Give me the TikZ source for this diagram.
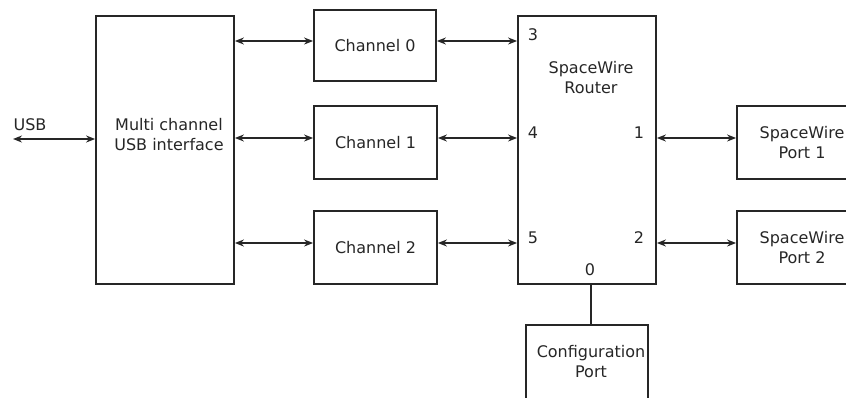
\documentclass[tikz,border=0pt]{standalone}
\usepackage{fontspec}
\setmainfont{DejaVu Sans}
\usetikzlibrary{arrows.meta}
\definecolor{ink}{HTML}{262626}
\begin{document}
\begin{tikzpicture}[x=1pt,y=-1pt,
  txt/.style={text=ink,inner sep=0pt,align=center,font=\fontsize{16}{20}\selectfont},
  box/.style={txt,draw=ink,line width=1.8pt},
  link/.style={draw=ink,line width=1.6pt,{Stealth[length=9pt,width=7pt]}-{Stealth[length=9pt,width=7pt]}},
  plain/.style={draw=ink,line width=1.8pt}]
\useasboundingbox (0,0) rectangle (846,397);
\clip (0,0) rectangle (846,397);
% boxes
\node[box,minimum width=138pt,minimum height=268pt] (usb) at (165,150) {};
\node[txt] (usbtxt) at (169,135) {Multi channel\\USB interface};
\node[box,minimum width=122pt,minimum height=71pt] (ch0) at (375,45.5) {Channel 0};
\node[box,minimum width=123pt,minimum height=73pt] (ch1) at (375.5,142.5) {Channel 1};
\node[box,minimum width=123pt,minimum height=73pt] (ch2) at (375.5,247.5) {Channel 2};
\node[box,minimum width=138pt,minimum height=268pt] (rt) at (587,150) {};
\node[txt] (rttxt) at (591,78) {SpaceWire\\Router};
\node[box,minimum width=130pt,minimum height=73pt] (p1) at (802,142.5) {SpaceWire\\Port 1};
\node[box,minimum width=130pt,minimum height=73pt] (p2) at (802,247.5) {SpaceWire\\Port 2};
\node[box,minimum width=122pt,minimum height=78pt] (cfg) at (587,364) {};
\node[txt] (cfgtxt) at (591,362) {Configuration\\Port};
% port numbers
\node[txt] (n3) at (533,35) {3};
\node[txt] (n4) at (533,133) {4};
\node[txt] (n5) at (533,238) {5};
\node[txt] (n1) at (639,133) {1};
\node[txt] (n2) at (639,238) {2};
\node[txt] (n0) at (590,270) {0};
\node[txt] (usblbl) at (30,124.5) {USB};
% connector anchor points
\coordinate (usbend) at (13,139);
\coordinate (c0) at ([yshift=4.5pt]ch0.west);
\coordinate (c1) at ([yshift=4.5pt]ch1.west);
\coordinate (c2) at ([yshift=4.5pt]ch2.west);
\coordinate (q1) at ([yshift=4.5pt]p1.west);
\coordinate (q2) at ([yshift=4.5pt]p2.west);
\coordinate (zero) at (591,284);
% connectors
\draw[link] (usbend) -- (usb.west |- usbend);
\draw[link] (usb.east |- c0) -- (c0);
\draw[link] (usb.east |- c1) -- (c1);
\draw[link] (usb.east |- c2) -- (c2);
\draw[link] (ch0.east |- c0) -- (rt.west |- c0);
\draw[link] (ch1.east |- c1) -- (rt.west |- c1);
\draw[link] (ch2.east |- c2) -- (rt.west |- c2);
\draw[link] (rt.east |- q1) -- (q1);
\draw[link] (rt.east |- q2) -- (q2);
\draw[plain] (zero) -- (cfg.north -| zero);
\end{tikzpicture}
\end{document}
